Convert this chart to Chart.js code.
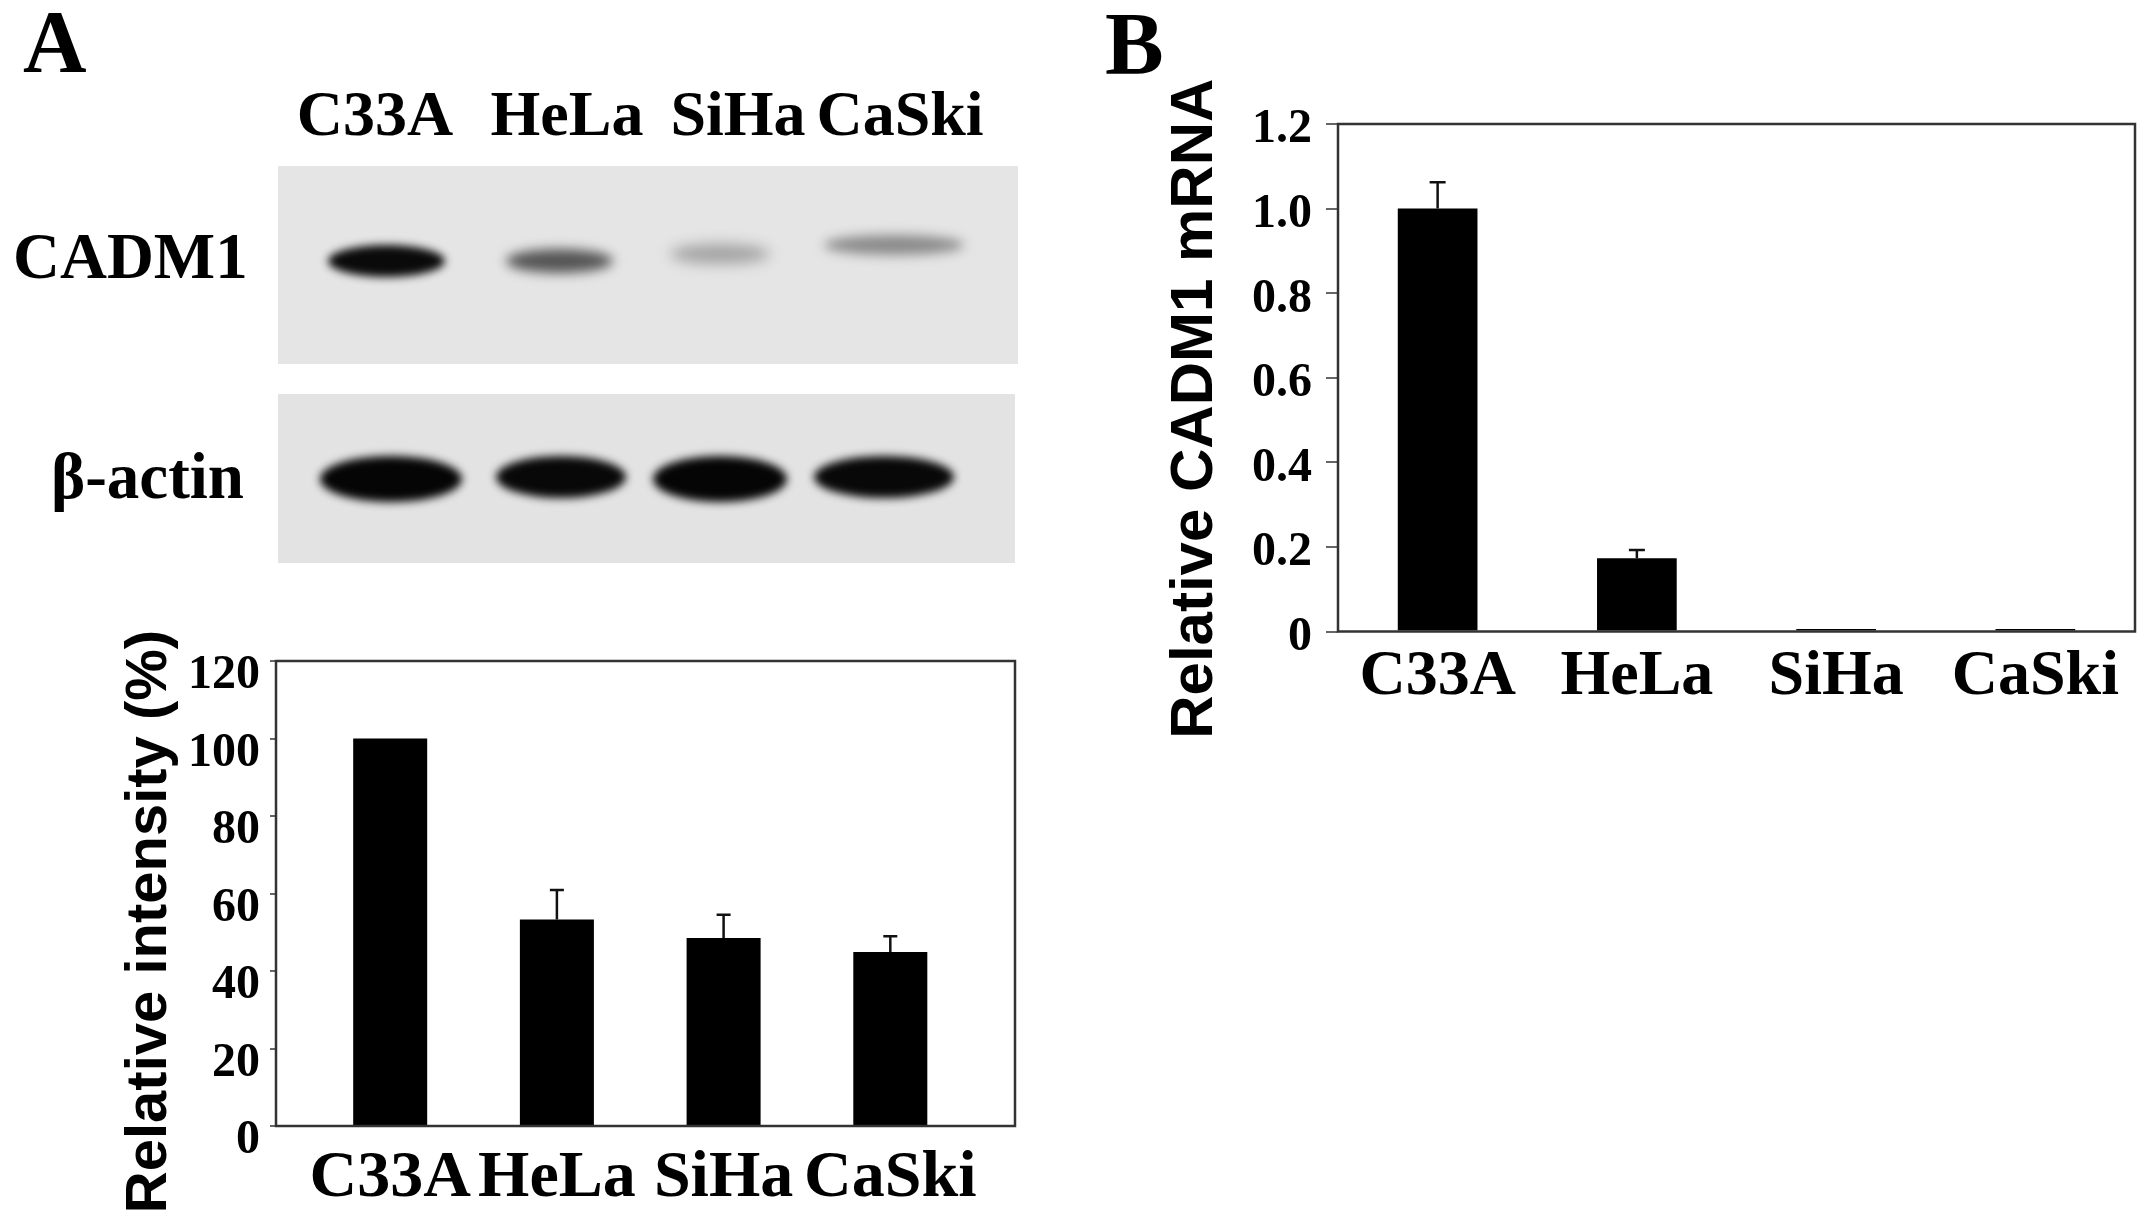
<!DOCTYPE html>
<html>
<head>
<meta charset="utf-8">
<script src="https://cdn.jsdelivr.net/npm/chart.js@4.4.1/dist/chart.umd.min.js"></script>
<style>
  html, body { margin: 0; padding: 0; background: #fff; }
  body { width: 2150px; height: 1212px; position: relative; overflow: hidden; }
  .txt { position: absolute; font-family: "Liberation Serif", "Times New Roman", serif; font-weight: bold; line-height: 1; color: #000; white-space: nowrap; }
  .blot { position: absolute; overflow: hidden; }
  .band { position: absolute; border-radius: 50%; }
  canvas { position: absolute; }
</style>
</head>
<body>

<div class="txt" style="left:23px; top:-2px; font-size:88px;">A</div>
<div class="txt" style="left:1105px; top:0px; font-size:88px;">B</div>

<div id="lanes"></div>
<div class="txt" style="left:13px; top:224px; font-size:65px;">CADM1</div>
<div class="txt" style="left:0; width:244px; text-align:right; top:444px; font-size:65px;">β-actin</div>

<div id="blotCadm" class="blot" style="left:278px; top:166px; width:740px; height:198px; background:#e5e5e5;"></div>
<div id="blotActin" class="blot" style="left:278px; top:394px; width:737px; height:169px; background:#e3e3e3;"></div>

<canvas id="chartA" width="1050" height="612" style="left:0; top:600px; width:1050px; height:612px;"></canvas>
<canvas id="chartB" width="1050" height="760" style="left:1100px; top:0; width:1050px; height:760px;"></canvas>

<script>
// cell lines
const cellLines = ['C33A', 'HeLa', 'SiHa', 'CaSki'];

// A: relative intensity (%) from western blot
const intensityMeans = [100, 53.3, 48.5, 44.9];
const intensityErrors = [0, 7.6, 6.0, 4.1];

// B: relative CADM1 mRNA
const mrnaMeans = [1.0, 0.173, 0.006, 0.006];
const mrnaErrors = [0.062, 0.02, 0, 0];

// blot picture (decoration only): lane label centres and band shapes
const laneLabelX = [375, 567, 738, 900];
const cadmBands = [
  { x: 50, y: 79, w: 117, h: 32, c: '#0a0a0a', b: 4 },
  { x: 228, y: 83, w: 107, h: 24, c: '#555', b: 6 },
  { x: 392, y: 78, w: 100, h: 20, c: '#a3a3a3', b: 7 },
  { x: 546, y: 69, w: 140, h: 20, c: '#8a8a8a', b: 6 }
];
const actinBands = [
  { x: 42, y: 62, w: 142, h: 46, c: '#050505', b: 4 },
  { x: 218, y: 62, w: 130, h: 42, c: '#080808', b: 4 },
  { x: 375, y: 62, w: 134, h: 46, c: '#050505', b: 4 },
  { x: 536, y: 62, w: 140, h: 42, c: '#080808', b: 4 }
];

var lanes = document.getElementById('lanes');
for (var i = 0; i < cellLines.length; i++) {
  let d = document.createElement('div');
  d.className = 'txt';
  d.style.fontSize = '64px';
  d.style.top = '82px';
  d.style.left = laneLabelX[i] + 'px';
  d.style.transform = 'translateX(-50%)';
  d.textContent = cellLines[i];
  lanes.appendChild(d);
}
function addBands(id, bands) {
  var box = document.getElementById(id);
  bands.forEach(function (b) {
    let d = document.createElement('div');
    d.className = 'band';
    d.style.left = b.x + 'px';
    d.style.top = b.y + 'px';
    d.style.width = b.w + 'px';
    d.style.height = b.h + 'px';
    d.style.background = b.c;
    d.style.filter = 'blur(' + b.b + 'px)';
    box.appendChild(d);
  });
}
addBands('blotCadm', cadmBands);
addBands('blotActin', actinBands);

const serif = '"Liberation Serif", "Times New Roman", serif';
const sans = '"Liberation Sans", Arial, sans-serif';

// box around the plot area
const framePlugin = {
  id: 'frame',
  afterDraw(chart) {
    const a = chart.chartArea, ctx = chart.ctx;
    ctx.save();
    ctx.strokeStyle = '#333';
    ctx.lineWidth = 2.5;
    ctx.strokeRect(a.left, a.top, a.right - a.left, a.bottom - a.top);
    ctx.restore();
  }
};

// upward error bars
const errorBarPlugin = {
  id: 'errorBars',
  afterDatasetsDraw(chart, args, opts) {
    const ctx = chart.ctx;
    const xs = chart.scales.x, ys = chart.scales.y;
    ctx.save();
    ctx.strokeStyle = '#111';
    ctx.lineWidth = 2.5;
    opts.means.forEach(function (m, i) {
      const e = opts.errors[i];
      if (!e) return;
      const x = xs.getPixelForValue(i);
      const y0 = ys.getPixelForValue(m);
      const y1 = ys.getPixelForValue(m + e);
      ctx.beginPath();
      ctx.moveTo(x, y0);
      ctx.lineTo(x, y1);
      ctx.moveTo(x - opts.cap, y1);
      ctx.lineTo(x + opts.cap, y1);
      ctx.stroke();
    });
    ctx.restore();
  }
};

// rotated y title, placed relative to the plot area
const sideTitlePlugin = {
  id: 'sideTitle',
  afterDraw(chart, args, opts) {
    const a = chart.chartArea, ctx = chart.ctx;
    ctx.save();
    ctx.translate(opts.x, (a.top + a.bottom) / 2 + opts.dy);
    ctx.rotate(-Math.PI / 2);
    ctx.font = 'bold ' + opts.size + 'px ' + sans;
    ctx.fillStyle = '#000';
    ctx.textAlign = 'center';
    ctx.textBaseline = 'middle';
    ctx.fillText(opts.text, 0, 0);
    ctx.restore();
  }
};

const ctxA = document.getElementById('chartA');
new Chart(ctxA, {
  type: 'bar',
  data: {
    datasets: [{
      data: intensityMeans.map((v, i) => ({ x: i, y: v })),
      backgroundColor: '#000',
      borderWidth: 0,
      barPercentage: 0.444,
      categoryPercentage: 1
    }]
  },
  options: {
    responsive: false,
    animation: false,
    layout: { padding: { top: 61, right: 35, left: 0, bottom: 0 } },
    plugins: {
      legend: { display: false },
      tooltip: { enabled: false },
      errorBars: { means: intensityMeans, errors: intensityErrors, cap: 7 },
      sideTitle: { text: 'Relative intensity (%)', x: 150, dy: 28, size: 58 }
    },
    scales: {
      x: {
        type: 'linear',
        offset: false,
        min: -0.685,
        max: 3.748,
        afterBuildTicks: axis => { axis.ticks = cellLines.map((c, i) => ({ value: i })); },
        afterFit: axis => { axis.height = 86; },
        ticks: {
          callback: v => cellLines[v],
          autoSkip: false,
          maxRotation: 0,
          padding: 13,
          color: '#000',
          font: { family: serif, size: 66, weight: 'bold' }
        },
        grid: { display: false, drawTicks: false },
        border: { display: false }
      },
      y: {
        min: 0,
        max: 120,
        afterFit: axis => { axis.width = 276; },
        ticks: {
          stepSize: 20,
          autoSkip: false,
          padding: 10,
          labelOffset: 15,
          color: '#000',
          font: { family: serif, size: 48, weight: 'bold' }
        },
        grid: { display: true, drawOnChartArea: false, drawTicks: true, tickLength: 6, color: '#666', lineWidth: 2 },
        border: { display: false }
      }
    }
  },
  plugins: [framePlugin, errorBarPlugin, sideTitlePlugin]
});

const ctxB = document.getElementById('chartB');
new Chart(ctxB, {
  type: 'bar',
  data: {
    labels: cellLines,
    datasets: [{
      data: mrnaMeans,
      backgroundColor: '#000',
      borderWidth: 0,
      barPercentage: 0.4,
      categoryPercentage: 1
    }]
  },
  options: {
    responsive: false,
    animation: false,
    layout: { padding: { top: 124, right: 15, left: 0, bottom: 0 } },
    plugins: {
      legend: { display: false },
      tooltip: { enabled: false },
      errorBars: { means: mrnaMeans, errors: mrnaErrors, cap: 8 },
      sideTitle: { text: 'Relative CADM1 mRNA', x: 95, dy: 31, size: 60 }
    },
    scales: {
      x: {
        afterFit: axis => { axis.height = 128.5; },
        ticks: {
          autoSkip: false,
          maxRotation: 0,
          padding: 8,
          color: '#000',
          font: { family: serif, size: 64, weight: 'bold' }
        },
        grid: { display: false, drawTicks: false },
        border: { display: false }
      },
      y: {
        min: 0,
        max: 1.2,
        afterFit: axis => { axis.width = 238; },
        ticks: {
          stepSize: 0.2,
          autoSkip: false,
          padding: 14,
          labelOffset: 6,
          color: '#000',
          callback: v => v === 0 ? '0' : v.toFixed(1),
          font: { family: serif, size: 48, weight: 'bold' }
        },
        grid: { display: true, drawOnChartArea: false, drawTicks: true, tickLength: 12, color: '#666', lineWidth: 2 },
        border: { display: false }
      }
    }
  },
  plugins: [framePlugin, errorBarPlugin, sideTitlePlugin]
});
</script>
</body>
</html>
